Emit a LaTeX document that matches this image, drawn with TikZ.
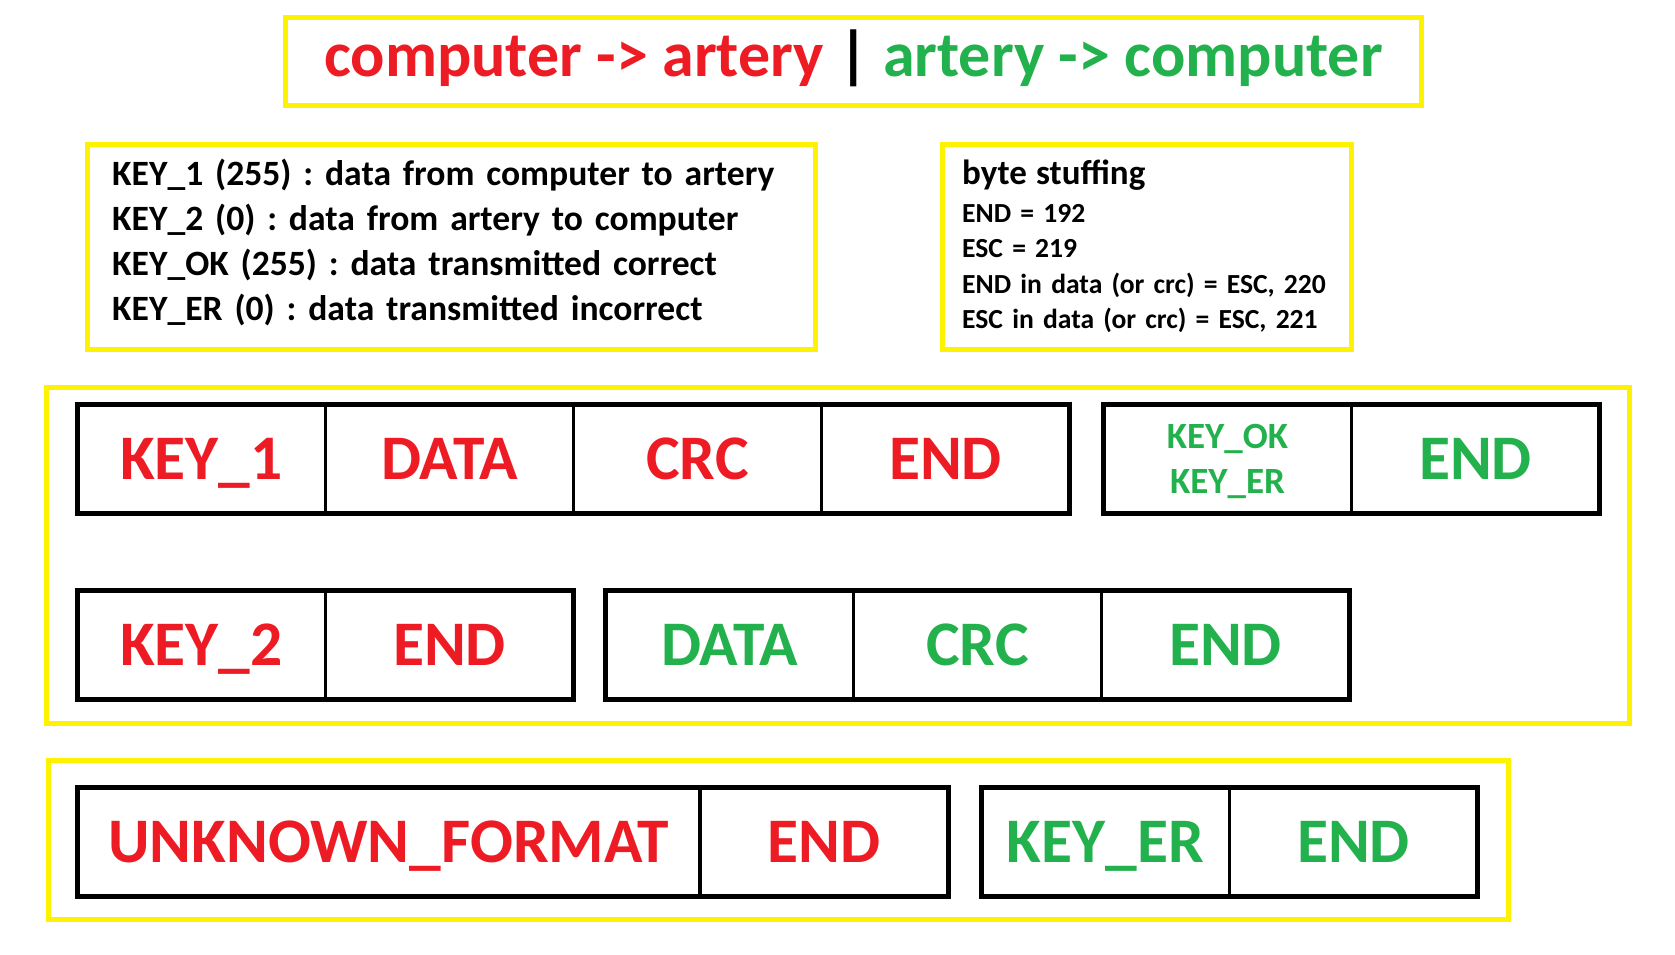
\documentclass[tikz,border=0pt]{standalone}
\usepackage{xcolor}
\usepackage{fontspec}
\setmainfont{Carlito}
\usepackage{tikz}
\usetikzlibrary{positioning}
\frenchspacing

\definecolor{tored}{RGB}{237,28,36}
\definecolor{togreen}{RGB}{34,177,76}
\definecolor{boxyellow}{RGB}{255,242,0}

\tikzset{
	yellowbox/.style={draw=boxyellow, line width=5pt, inner sep=0pt, outer sep=0pt},
	cell/.style={draw=black, line width=3.5pt, minimum width=248pt, minimum height=109pt,
		inner sep=0pt, outer sep=0pt, font=\fontsize{63.5}{70}\selectfont\bfseries,
		text height=41pt, text depth=0pt},
	frame/.style={draw=black, line width=5pt},
	redtxt/.style={text=tored},
	greentxt/.style={text=togreen},
	listtxt/.style={inner sep=0pt, align=left, anchor=base west}
}

\begin{document}
\begin{tikzpicture}[x=1pt, y=-1pt]
	\useasboundingbox (0,0) rectangle (1675,955);

	% title and legends
	\node[yellowbox, minimum width=1136pt, minimum height=88pt, text height=46pt, text depth=15pt,
		font=\fontsize{64}{70}\selectfont\bfseries] (title) at (853.5,61.5)
		{\textcolor{tored}{computer -> artery} | \textcolor{togreen}{artery -> computer}};
	\node[yellowbox, minimum width=728pt, minimum height=205pt] (keybox) at (451.5,247) {};
	\node[yellowbox, minimum width=409pt, minimum height=205pt] (stuffbox) at (1147,247) {};
	\node[listtxt, text width=720pt, font=\fontsize{35.6}{45.2}\selectfont\bfseries] (keylist) at (112,185)
		{KEY\_1 (255) : data from computer to artery\\
		 KEY\_2 (0) : data from artery to computer\\
		 KEY\_OK (255) : data transmitted correct\\
		 KEY\_ER (0) : data transmitted incorrect};
	\node[listtxt, text width=400pt, font=\fontsize{27.6}{35.5}\selectfont\bfseries] (stufflist) at (962,184)
		{{\fontsize{35}{38}\selectfont byte stuffing}\\[2.5pt]
		 END = 192\\
		 ESC = 219\\
		 END in data (or crc) = ESC, 220\\
		 ESC in data (or crc) = ESC, 221};

	% packets
	\node[yellowbox, minimum width=1583pt, minimum height=336pt] (normal) at (838,555.5) {};
	\node[yellowbox, minimum width=1460pt, minimum height=159pt] (fault) at (778.5,840) {};

	\node[cell, redtxt] (k1) at (201.5,459) {KEY\_1};
	\node[cell, redtxt, right=0pt of k1] (d1) {DATA};
	\node[cell, redtxt, right=0pt of d1] (c1) {CRC};
	\node[cell, redtxt, right=0pt of c1] (e1) {END};
	\draw[frame] (k1.north west) rectangle (e1.south east);

	\node[cell, greentxt, font=\fontsize{37}{45.5}\selectfont\bfseries, text width=220pt,
		align=center, text height=24pt, text depth=45.5pt] (ok) at (1227.5,459) {KEY\_OK\\KEY\_ER};
	\node[cell, greentxt, right=0pt of ok] (e2) {END};
	\draw[frame] (ok.north west) rectangle (e2.south east);

	\node[cell, redtxt] (k2) at (201.5,645) {KEY\_2};
	\node[cell, redtxt, right=0pt of k2] (e3) {END};
	\draw[frame] (k2.north west) rectangle (e3.south east);

	\node[cell, greentxt] (d2) at (729.5,645) {DATA};
	\node[cell, greentxt, right=0pt of d2] (c2) {CRC};
	\node[cell, greentxt, right=0pt of c2] (e4) {END};
	\draw[frame] (d2.north west) rectangle (e4.south east);

	\node[cell, redtxt, minimum width=622.5pt] (unk) at (388.75,842) {UNKNOWN\_FORMAT};
	\node[cell, redtxt, right=0pt of unk] (e5) {END};
	\draw[frame] (unk.north west) rectangle (e5.south east);

	\node[cell, greentxt] (er) at (1105.5,842) {KEY\_ER};
	\node[cell, greentxt, right=0pt of er] (e6) {END};
	\draw[frame] (er.north west) rectangle (e6.south east);
\end{tikzpicture}
\end{document}
